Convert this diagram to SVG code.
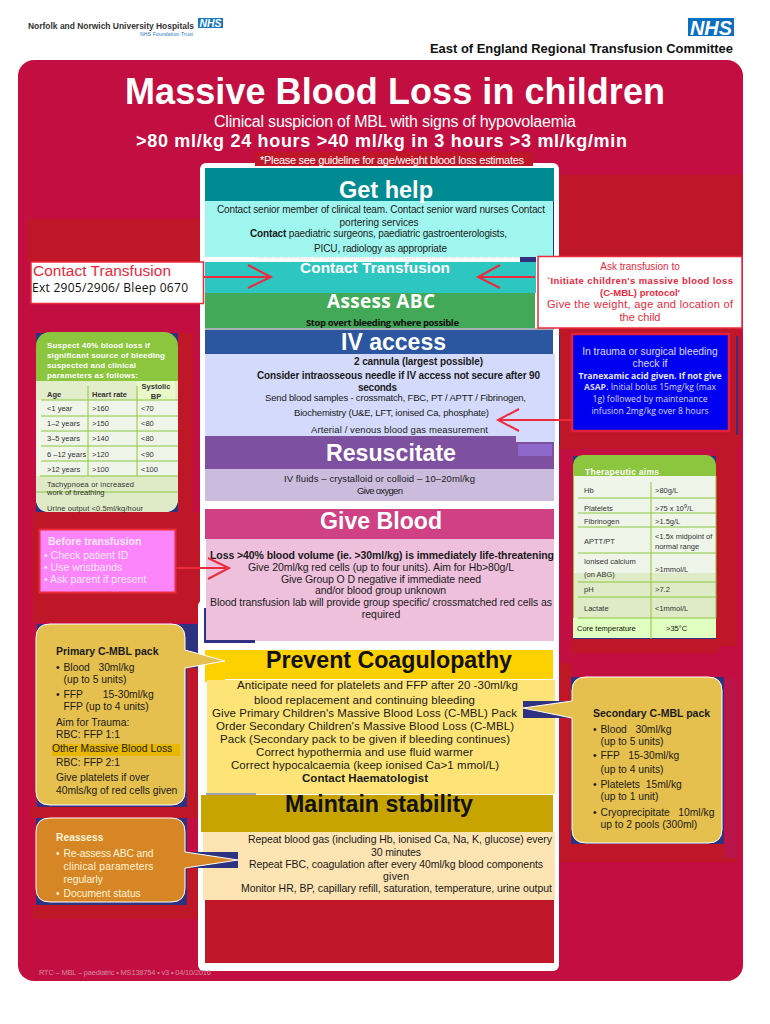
<svg xmlns="http://www.w3.org/2000/svg" width="770" height="1024" viewBox="0 0 770 1024">
<style>
text{font-family:"Liberation Sans",Arial,sans-serif;fill:#1a1a1a}
.b{font-weight:bold}
.w{fill:#fff}
.os{font-family:"Open Sans","Liberation Sans",sans-serif}
.m{text-anchor:middle}
.red{fill:#bf1728}
.navy{fill:#2f3280}
.s95{font-size:9.5px}.s10{font-size:10px}.s103{font-size:10.3px}.s105{font-size:10.5px}.s11{font-size:11.5px}
.tb{font-size:7.5px;fill:#333}
.gl{stroke:#8cc63f;stroke-width:1;fill:none}
.pk{fill:#fff4d8;font-size:10.3px}
.pp{fill:#ffe8ff;font-size:10.5px}
.arrow{fill:none;stroke:#ec2b3d;stroke-width:2}
</style>
<rect width="770" height="1024" fill="#fff"/>
<g id="hospital-logo">
<text x="28" y="29" class="b" font-size="8.500" textLength="166" lengthAdjust="spacingAndGlyphs" style="fill:#333">Norfolk and Norwich University Hospitals</text>
<rect x="198" y="18" width="25" height="10" fill="#1a78c2"/>
<text x="199.500" y="27" class="b w" font-size="10.500" font-style="italic" textLength="22" lengthAdjust="spacingAndGlyphs">NHS</text>
<text x="140" y="36" font-size="5" textLength="53" style="fill:#1a78c2">NHS Foundation Trust</text>
</g>
<g id="nhs-logo">
<rect x="688" y="18" width="46" height="18" fill="#0a6fc2"/>
<text x="690" y="34.500" class="b w" font-size="19.500" font-style="italic" textLength="42" lengthAdjust="spacingAndGlyphs">NHS</text>
</g>
<text id="committee" x="430" y="53" class="b" font-size="12" textLength="303" lengthAdjust="spacingAndGlyphs" style="fill:#111">East of England Regional Transfusion Committee</text>

<rect id="background" x="18" y="60" width="725" height="921" rx="16" fill="#c20e40"/>
<g id="title">
<text x="125" y="104" class="b w" font-size="36" textLength="540">Massive Blood Loss in children</text>
<text x="214" y="127" class="w" font-size="16" textLength="362">Clinical suspicion of MBL with signs of hypovolaemia</text>
<text x="136" y="147" class="b w" font-size="18" textLength="491">&gt;80 ml/kg 24 hours &gt;40 ml/kg in 3 hours &gt;3 ml/kg/min</text>
</g>

<g id="backing-patches">
<rect class="red" x="559" y="175" width="184" height="84"/>
<rect class="red" x="27" y="219" width="173" height="43"/>
<rect class="red" x="559" y="328" width="181" height="121"/>
<rect class="red" x="716" y="449" width="21" height="197"/>
<rect class="red" x="571" y="639" width="147" height="14"/>
<rect class="red" x="178" y="333" width="15" height="179"/>
<rect class="red" x="33" y="512" width="167" height="110"/>
<rect class="red" x="30" y="807" width="168" height="11"/>
<rect class="red" x="33" y="905" width="165" height="14"/>
<rect class="red" x="559" y="663" width="13" height="199"/>
<rect class="red" x="559" y="844" width="179" height="18"/>
<rect x="724" y="678" width="14" height="180" fill="#b8144a"/>
<rect class="red" x="187" y="668" width="11" height="139"/>
<rect class="red" x="187" y="868" width="11" height="37"/>
<rect class="navy" x="736" y="336" width="2" height="99"/>
<rect class="navy" x="558" y="335" width="2" height="110"/>
</g>

<g id="panel">
<rect x="200" y="163" width="359" height="500" rx="6" fill="#fff"/>
<rect x="198" y="600" width="361" height="371" rx="6" fill="#fff"/>
</g>

<g id="please-see">
<rect class="red" x="255" y="152" width="278" height="14"/>
<text x="260" y="163.500" class="w" font-size="11" textLength="264">*Please see guideline for age/weight blood loss estimates</text>
</g>

<g id="get-help">
<rect x="205" y="168" width="349" height="34" fill="#008b92"/>
<rect x="553" y="201" width="1" height="56" fill="#2f3280"/>
<rect x="205" y="201" width="348" height="56" fill="#9ff6ef"/>
<text x="339" y="198" class="b w" font-size="23.500" textLength="94">Get help</text>
<text x="217" y="213" class="s10" textLength="328">Contact senior member of clinical team. Contact senior ward nurses Contact</text>
<text x="379" y="226" class="s10 m">portering services</text>
<text x="250" y="237" class="s10" textLength="257"><tspan class="b">Contact</tspan> paediatric surgeons, paediatric gastroenterologists,</text>
<text x="314" y="252" class="s10" textLength="133">PICU, radiology as appropriate</text>
</g>

<g id="contact-transfusion">
<rect x="205" y="262" width="331" height="31" fill="#2ec6c0"/>
<rect class="navy" x="520" y="257" width="16" height="5"/>
<line x1="255" y1="258" x2="520" y2="258" stroke="#cfd4e6" stroke-width="1" stroke-dasharray="1 1"/>
<text x="300" y="273" class="b w" font-size="15.400" textLength="150">Contact Transfusion</text>
</g>

<g id="assess-abc">
<rect x="205" y="293" width="330" height="35" fill="#41a957"/>
<rect x="205" y="328" width="349" height="2" fill="#aab0b8"/>
<text x="327" y="308" class="b w os" font-size="19" textLength="108">Assess ABC</text>
<text x="306" y="326" class="b os" font-size="9.500" textLength="153" style="fill:#111">Stop overt bleeding where possible</text>
</g>

<g id="contact-box">
<rect x="31" y="262" width="172.500" height="41.500" fill="#fff" stroke="#ec2b3d" stroke-width="1.500"/>
<text x="33" y="276" font-size="15.400" textLength="138" style="fill:#e8283c">Contact Transfusion</text>
<text x="32" y="292" class="os" font-size="12" textLength="156" style="fill:#111">Ext 2905/2906/ Bleep 0670</text>
</g>

<g id="ask-box">
<rect x="538" y="256.500" width="204" height="71.500" fill="#fff" stroke="#ec2b3d" stroke-width="1.500"/>
<text x="640" y="270" class="m" font-size="10" style="fill:#e8283c">Ask transfusion to</text>
<text x="547" y="284" class="b" font-size="9.500" textLength="186" style="fill:#e8283c">`Initiate children's massive blood loss</text>
<text x="640" y="296" class="b m" font-size="9.500" style="fill:#e8283c">(C-MBL) protocol'</text>
<text x="547" y="308" font-size="11" textLength="186" style="fill:#e8283c">Give the weight, age and location of</text>
<text x="640" y="321" class="m" font-size="11" style="fill:#e8283c">the child</text>
</g>

<g id="iv-access">
<rect x="205" y="330" width="348" height="24" fill="#2c569f"/>
<rect x="205" y="354" width="350" height="82" fill="#d4dafc"/>
<rect x="516" y="436" width="39" height="6" fill="#d4dafc"/>
<text x="341" y="350" class="b w" font-size="23" textLength="105">IV access</text>
<text x="354" y="365" class="b s10" textLength="129">2  cannula (largest possible)</text>
<text x="257" y="379" class="b s10" textLength="283">Consider intraosseous needle if IV access not secure after 90</text>
<text x="358" y="391" class="b s10" textLength="39">seconds</text>
<text x="265" y="401" class="s95" textLength="261">Send blood samples  - crossmatch, FBC, PT / APTT / Fibrinogen,</text>
<text x="294" y="416" class="s95" textLength="195">Biochemistry (U&amp;E, LFT, ionised Ca, phosphate)</text>
<text x="311" y="433" class="s95" textLength="177">Arterial / venous blood gas measurement</text>
</g>

<g id="resuscitate">
<rect x="205" y="436" width="311" height="33" fill="#7e50a0"/>
<rect x="516" y="442" width="38" height="27" fill="#7e50a0"/>
<rect x="518" y="444" width="34" height="12" fill="#8f68cc"/>
<rect x="205" y="469" width="349" height="32" fill="#cbbcdd"/>
<text x="326" y="461" class="b w" font-size="23.200" textLength="130">Resuscitate</text>
<text x="284" y="482" class="s95" textLength="191">IV fluids – crystalloid or colloid – 10–20ml/kg</text>
<text x="357" y="494" class="s95" textLength="46">Give oxygen</text>
</g>

<g id="give-blood">
<rect x="205" y="509" width="349" height="30" fill="#cf4084"/>
<rect x="206" y="539" width="348" height="102" fill="#eec0dc"/>
<text x="320" y="529" class="b w" font-size="23.100" textLength="122">Give Blood</text>
<text x="210" y="559" class="b s105" textLength="344">Loss &gt;40% blood volume (ie. &gt;30ml/kg) is immediately life-threatening</text>
<text x="248" y="571" class="s105" textLength="266">Give 20ml/kg red cells (up to four units). Aim for Hb&gt;80g/L</text>
<text x="281" y="582.500" class="s105" textLength="200">Give Group O D negative if immediate need</text>
<text x="315" y="594" class="s105" textLength="131">and/or blood group unknown</text>
<text x="210" y="606" class="s105" textLength="342">Blood transfusion lab will provide group specific/ crossmatched red cells as</text>
<text x="381" y="618" class="s105 m">required</text>
<rect class="navy" x="204" y="608" width="2" height="35"/>
<rect class="navy" x="204" y="640" width="51" height="3"/>
</g>

<g id="prevent-coagulopathy">
<rect x="205" y="650" width="348" height="29" fill="#fdd000"/>
<rect x="205" y="679" width="20" height="3" fill="#fdd000"/>
<rect x="207" y="680" width="348" height="114" fill="#fee476"/>
<rect x="206" y="793" width="50" height="2" fill="#9aa0b8"/>
<text x="266" y="668" class="b" font-size="23.200" textLength="246" style="fill:#111">Prevent Coagulopathy</text>
<text x="237" y="689" class="s11" textLength="281">Anticipate need for platelets and FFP after 20 -30ml/kg</text>
<text x="254" y="704" class="s11" textLength="221">blood replacement and continuing bleeding</text>
<text x="212" y="717" class="s11" textLength="305">Give Primary Children's Massive Blood Loss (C-MBL) Pack</text>
<text x="216" y="730" class="s11" textLength="298">Order Secondary Children's Massive Blood Loss (C-MBL)</text>
<text x="220" y="743" class="s11" textLength="290">Pack (Secondary pack to be given if bleeding continues)</text>
<text x="256" y="756" class="s11" textLength="217">Correct hypothermia and use fluid warmer</text>
<text x="231" y="769" class="s11" textLength="268">Correct hypocalcaemia (keep ionised Ca&gt;1 mmol/L)</text>
<text x="302" y="782" class="b s11" textLength="126">Contact Haematologist</text>
</g>

<g id="maintain-stability">
<rect x="201" y="795" width="352" height="37" fill="#c8a400"/>
<rect x="203" y="832" width="352" height="68" fill="#fde4b2"/>
<rect class="red" x="205" y="900" width="349" height="63"/>
<text x="285" y="812" class="b" font-size="23.200" textLength="188" style="fill:#111">Maintain stability</text>
<text x="248" y="843" class="s105" textLength="304">Repeat blood gas (including Hb, ionised Ca, Na, K, glucose) every</text>
<text x="371" y="856" class="s105" textLength="50">30 minutes</text>
<text x="249" y="868" class="s105" textLength="294">Repeat FBC, coagulation after every 40ml/kg blood components</text>
<text x="383" y="880" class="s105" textLength="26">given</text>
<text x="241" y="892" class="s105" textLength="311">Monitor HR, BP, capillary refill, saturation, temperature, urine output</text>
</g>

<g id="suspect-card">
<rect class="navy" x="36" y="333" width="142" height="179"/>
<rect x="36" y="332" width="142" height="180" rx="14" fill="#8cc63f"/>
<path d="M36 381H178V498Q178 512 164 512H50Q36 512 36 498Z" fill="#f0f5ea"/>
<path d="M36 476H178V498Q178 512 164 512H50Q36 512 36 498Z" fill="#dfebc6"/>
<rect x="36" y="381" width="142" height="19" fill="#e2eeca"/>
<rect x="137" y="381" width="38" height="19" fill="#e9f8c8"/>
<path class="gl" d="M41 400H178M41 416H178M41 431H178M41 446H178M41 461H178M40 476H178M36 492H178M88 386V476M137 386V476"/>
<text x="47" y="348" class="b w" font-size="8" textLength="103">Suspect 40% blood loss if</text>
<text x="47" y="358" class="b w" font-size="8" textLength="118">significant source of bleeding</text>
<text x="47" y="368" class="b w" font-size="8" textLength="89">suspected and clinical</text>
<text x="47" y="378" class="b w" font-size="8" textLength="91">parameters as follows:</text>
<text x="47" y="397" class="tb b">Age</text><text x="92" y="397" class="tb b">Heart rate</text>
<text x="156" y="389" class="tb b m">Systolic</text><text x="156" y="399" class="tb b m">BP</text>
<text x="47" y="411" class="tb">&lt;1 year</text><text x="92" y="411" class="tb">&gt;160</text><text x="141" y="411" class="tb">&lt;70</text>
<text x="47" y="426" class="tb">1–2 years</text><text x="92" y="426" class="tb">&gt;150</text><text x="141" y="426" class="tb">&lt;80</text>
<text x="47" y="441" class="tb">3–5 years</text><text x="92" y="441" class="tb">&gt;140</text><text x="141" y="441" class="tb">&lt;80</text>
<text x="47" y="457" class="tb">6 –12 years</text><text x="92" y="457" class="tb">&gt;120</text><text x="141" y="457" class="tb">&lt;90</text>
<text x="47" y="472" class="tb">&gt;12 years</text><text x="92" y="472" class="tb">&gt;100</text><text x="141" y="472" class="tb">&lt;100</text>
<text x="47" y="487" class="tb" textLength="87">Tachypnoea or increased</text>
<text x="47" y="495" class="tb">work of breathing</text>
<text x="47" y="511" class="tb" textLength="96">Urine output &lt;0.5ml/kg/hour</text>
</g>

<g id="before-transfusion">
<rect x="39.500" y="529.500" width="136" height="63" fill="#fd85fc" stroke="#ec2b3d" stroke-width="2"/>
<text x="48" y="545" class="b pp">Before transfusion</text>
<text x="44" y="559" class="pp">• Check patient ID</text>
<text x="44" y="571" class="pp">• Use wristbands</text>
<text x="44" y="583" class="pp">• Ask parent if present</text>
</g>

<g id="primary-pack">
<rect class="navy" x="37" y="624" width="161" height="26"/>
<rect class="navy" x="37" y="650" width="150" height="157"/>
<rect class="navy" x="185" y="650" width="13" height="18"/>
<path d="M50 624H171Q185 624 185 638V650L225 661L185 668V791Q185 805 171 805H50Q36 805 36 791V638Q36 624 50 624Z" fill="#e6c04e" stroke="#fff" stroke-width="1"/>
<rect x="52" y="744" width="128" height="12" fill="#e8b800"/>
<text x="56" y="655" class="b s105">Primary C-MBL pack</text>
<text x="56" y="671" class="s103">•</text><text x="63.500" y="671" class="s103" xml:space="preserve">Blood   30ml/kg</text>
<text x="63.500" y="683" class="s103">(up to 5 units)</text>
<text x="56" y="698" class="s103">•</text><text x="63.500" y="698" class="s103" xml:space="preserve">FFP       15-30ml/kg</text>
<text x="63.500" y="710" class="s103">FFP (up to 4 units)</text>
<text x="56" y="726" class="s103">Aim for Trauma:</text>
<text x="56" y="738" class="s103">RBC: FFP 1:1</text>
<text x="52" y="752" class="s103">Other Massive Blood Loss</text>
<text x="56" y="766" class="s103">RBC: FFP 2:1</text>
<text x="56" y="781" class="s103">Give platelets if over</text>
<text x="56" y="794" class="s103">40mls/kg of red cells given</text>
</g>

<g id="reassess">
<rect class="navy" x="36" y="818" width="151" height="87"/>
<rect class="navy" x="185" y="852" width="53" height="16"/>
<path d="M50 818H171Q185 818 185 832V852L238 860L185 868V888Q185 902 171 902H50Q36 902 36 888V832Q36 818 50 818Z" fill="#d78625" stroke="#fff" stroke-width="1"/>
<text x="56" y="841" class="b pk">Reassess</text>
<text x="56" y="857" class="pk">•</text><text x="63.500" y="857" class="pk" textLength="90">Re-assess  ABC  and</text>
<text x="63.500" y="870" class="pk" textLength="90">clinical    parameters</text>
<text x="63.500" y="883" class="pk">regularly</text>
<text x="56" y="897" class="pk">•</text><text x="63.500" y="897" class="pk">Document status</text>
</g>

<g id="tranexamic">
<rect x="572" y="334" width="157" height="97" fill="#0000f0" stroke="#e0203c" stroke-width="2.500"/>
<text x="650" y="355" class="m s103" style="fill:#d8d8ff">In trauma or surgical bleeding</text>
<text x="650" y="367" class="m s103" style="fill:#d8d8ff">check if</text>
<text x="650" y="379" class="m b os" font-size="8.600" style="fill:#e8e8ff">Tranexamic acid given. If not give</text>
<text x="650" y="390" class="m os" font-size="8.600" style="fill:#d8d8ff"><tspan class="b">ASAP.</tspan> Initial bolus 15mg/kg (max</text>
<text x="650" y="402" class="m os" font-size="8.600" style="fill:#d8d8ff">1g) followed by maintenance</text>
<text x="650" y="414" class="m os" font-size="8.600" style="fill:#d8d8ff">infusion 2mg/kg over 8 hours</text>
</g>

<g id="therapeutic-aims">
<rect class="navy" x="573" y="456" width="143" height="183"/>
<rect x="573" y="455" width="143" height="183" rx="10" fill="#8cc63f"/>
<rect x="574" y="476" width="142" height="97" fill="#f0f5ea"/>
<rect x="574" y="573" width="142" height="45" fill="#dfebc6"/>
<rect x="573" y="618" width="143" height="20" fill="#e0ffc0"/>
<path class="gl" d="M578 498H716M578 513H716M578 527H716M578 553H716M578 582H716M578 597H716M578 618H716M651 482V639M716 476V618M573.500 476V618"/>
<text x="585" y="475" class="b w" font-size="8.500" textLength="74">Therapeutic aims</text>
<text x="584" y="493" class="tb">Hb</text><text x="655" y="493" class="tb">&gt;80g/L</text>
<text x="584" y="511" class="tb">Platelets</text><text x="655" y="511" class="tb">&gt;75 x 10<tspan font-size="5.500" dy="-3">9</tspan><tspan dy="3">/L</tspan></text>
<text x="584" y="524" class="tb">Fibrinogen</text><text x="655" y="524" class="tb">&gt;1.5g/L</text>
<text x="584" y="544" class="tb">APTT/PT</text><text x="655" y="539" class="tb">&lt;1.5x midpoint of</text><text x="655" y="549" class="tb">normal range</text>
<text x="584" y="564" class="tb">Ionised calcium</text><text x="584" y="577" class="tb">(on ABG)</text><text x="655" y="572" class="tb">&gt;1mmol/L</text>
<text x="584" y="592" class="tb">pH</text><text x="655" y="592" class="tb">&gt;7.2</text>
<text x="584" y="611" class="tb">Lactate</text><text x="655" y="611" class="tb">&lt;1mmol/L</text>
<text x="577" y="631" class="tb" style="fill:#111">Core temperature</text><text x="666" y="631" class="tb" style="fill:#111">&gt;35°C</text>
</g>

<g id="secondary-pack">
<rect class="navy" x="571" y="677" width="153" height="167"/>
<rect class="navy" x="523" y="701" width="49" height="17"/>
<path d="M586 677H708Q722 677 722 691V829Q722 843 708 843H586Q572 843 572 829V718L523 708L572 701V691Q572 677 586 677Z" fill="#e6c04e" stroke="#fff" stroke-width="1"/>
<text x="593" y="717" class="b s105">Secondary C-MBL pack</text>
<text x="593" y="733" class="s103">•</text><text x="600.500" y="733" class="s103" xml:space="preserve">Blood   30ml/kg</text>
<text x="600.500" y="745" class="s103">(up to 5 units)</text>
<text x="593" y="759" class="s103">•</text><text x="600.500" y="759" class="s103" xml:space="preserve">FFP   15-30ml/kg</text>
<text x="600.500" y="773" class="s103">(up to 4 units)</text>
<text x="593" y="788" class="s103">•</text><text x="600.500" y="788" class="s103" xml:space="preserve">Platelets  15ml/kg</text>
<text x="600.500" y="800" class="s103">(up to 1 unit)</text>
<text x="593" y="816" class="s103">•</text><text x="600.500" y="816" class="s103" xml:space="preserve">Cryoprecipitate   10ml/kg</text>
<text x="600.500" y="828" class="s103">up to 2 pools (300ml)</text>
</g>

<g id="connectors">
<path class="arrow" d="M204 277H271M248 265L271 277L248 288"/>
<path class="arrow" d="M535 277H478M500 265L478 277L500 288"/>
<path class="arrow" d="M572 420H498M519 409L498 420L519 431"/>
<path class="arrow" d="M176 568H229M208 558L229 568L208 579"/>
</g>

<text id="footer" x="39" y="975" font-size="7.500" textLength="172" style="fill:#d88aa0">RTC – MBL – paediatric • MS138754 • v3 • 04/10/2016</text>
</svg>
